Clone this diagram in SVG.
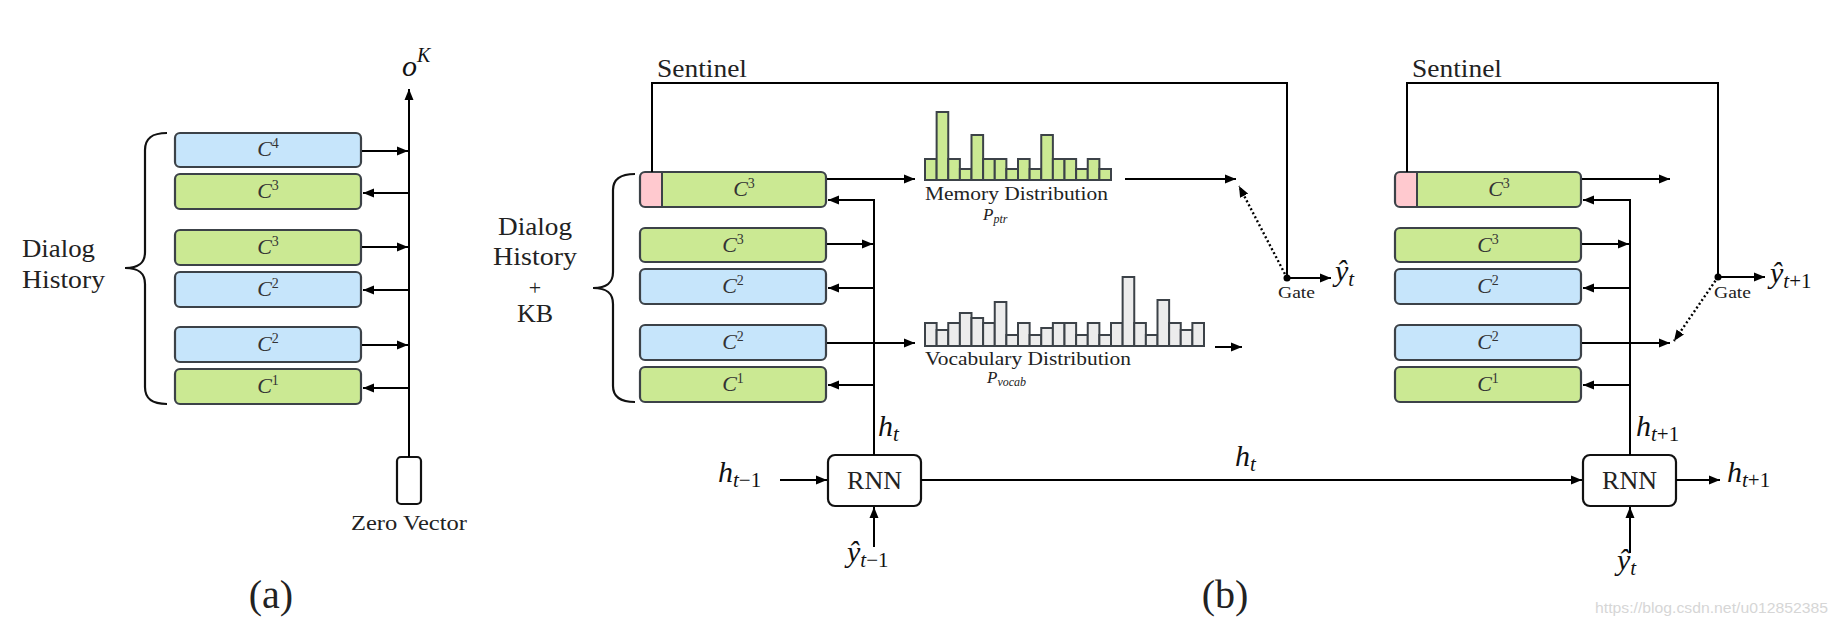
<svg xmlns="http://www.w3.org/2000/svg" width="1838" height="620" viewBox="0 0 1838 620" font-family="'Liberation Serif', 'DejaVu Serif', serif">
<style>
.g{fill:#cbe993}
.b{fill:#c6e5fb}
.box{stroke:#3c4248;stroke-width:2.2}
.bar{stroke:#3c4248;stroke-width:2}
.vb{fill:#ececec}
.t{fill:#222}
.c{fill:#333;font-size:22px;text-anchor:middle}
.i{font-style:italic}
.m{fill:#111;font-size:30px;font-style:italic}
.ln{fill:none;stroke:#000;stroke-width:2}
.dot{fill:none;stroke:#000;stroke-width:2.4;stroke-dasharray:2 2.5}
.br{fill:none;stroke:#111;stroke-width:2.2}
.rnn{fill:#fff;stroke:#111;stroke-width:2.2}
</style>
<defs>
<marker id="ah" markerUnits="userSpaceOnUse" markerWidth="12" markerHeight="10" refX="11" refY="5" orient="auto">
<path d="M0,0.5 L11,5 L0,9.5 Z" fill="#000"/>
</marker>
</defs>
<rect width="1838" height="620" fill="#fff"/>

<!-- (a) -->
<g id="a-brace"><path class="br" d="M167 133 C152 133 145 138 145 150 L145 252 C145 263 139 268 125 268 C139 268 145 273 145 284 L145 387 C145 399 152 404 167 404"/></g>
<g id="a-label"><text class="t" x="22" y="257" font-size="26" textLength="73" lengthAdjust="spacingAndGlyphs">Dialog</text><text class="t" x="22" y="288" font-size="26" textLength="83" lengthAdjust="spacingAndGlyphs">History</text></g>
<g id="a-c4"><rect class="b box" x="175" y="133" width="186" height="34" rx="5"/><text class="c" x="268" y="156"><tspan class="i">C</tspan><tspan dy="-8" font-size="14">4</tspan></text></g>
<g id="a-c3a"><rect class="g box" x="175" y="174" width="186" height="35" rx="5"/><text class="c" x="268" y="198"><tspan class="i">C</tspan><tspan dy="-8" font-size="14">3</tspan></text></g>
<g id="a-c3b"><rect class="g box" x="175" y="230" width="186" height="35" rx="5"/><text class="c" x="268" y="254"><tspan class="i">C</tspan><tspan dy="-8" font-size="14">3</tspan></text></g>
<g id="a-c2a"><rect class="b box" x="175" y="272" width="186" height="35" rx="5"/><text class="c" x="268" y="296"><tspan class="i">C</tspan><tspan dy="-8" font-size="14">2</tspan></text></g>
<g id="a-c2b"><rect class="b box" x="175" y="327" width="186" height="35" rx="5"/><text class="c" x="268" y="351"><tspan class="i">C</tspan><tspan dy="-8" font-size="14">2</tspan></text></g>
<g id="a-c1"><rect class="g box" x="175" y="369" width="186" height="35" rx="5"/><text class="c" x="268" y="393"><tspan class="i">C</tspan><tspan dy="-8" font-size="14">1</tspan></text></g>
<g id="a-zero"><rect x="397" y="457" width="24" height="47" rx="4" fill="#fff" stroke="#111" stroke-width="2.2"/><text class="t" x="409" y="530" font-size="21" text-anchor="middle" textLength="116" lengthAdjust="spacingAndGlyphs">Zero Vector</text></g>
<g id="a-ok"><text class="m" x="402" y="76" font-size="28">o<tspan dy="-14" font-size="20">K</tspan></text></g>
<g id="a-cap"><text class="t" x="271" y="608" font-size="40" text-anchor="middle">(a)</text></g>

<!-- (b) left -->
<g id="b-brace"><path class="br" d="M635 174 C620 174 613 179 613 190 L613 272 C613 283 607 288 593 288 C607 288 613 293 613 304 L613 386 C613 397 620 402 635 402"/></g>
<g id="b-label" class="t" font-size="26" text-anchor="middle"><text x="535" y="235" textLength="74" lengthAdjust="spacingAndGlyphs">Dialog</text><text x="535" y="265" textLength="84" lengthAdjust="spacingAndGlyphs">History</text><text x="535" y="295" font-size="22">+</text><text x="535" y="322">KB</text></g>
<g id="b-c3s"><rect class="g" x="640" y="172" width="186" height="35" rx="5"/><path d="M662 172 L645 172 Q640 172 640 177 L640 202 Q640 207 645 207 L662 207 Z" fill="#ffc9cf"/><rect class="box" fill="none" x="640" y="172" width="186" height="35" rx="5"/><line x1="662" y1="172" x2="662" y2="207" stroke="#3c4248" stroke-width="2"/><text class="c" x="744" y="196"><tspan class="i">C</tspan><tspan dy="-8" font-size="14">3</tspan></text></g>
<g id="b-c3"><rect class="g box" x="640" y="228" width="186" height="34" rx="5"/><text class="c" x="733" y="252"><tspan class="i">C</tspan><tspan dy="-8" font-size="14">3</tspan></text></g>
<g id="b-c2a"><rect class="b box" x="640" y="269" width="186" height="35" rx="5"/><text class="c" x="733" y="293"><tspan class="i">C</tspan><tspan dy="-8" font-size="14">2</tspan></text></g>
<g id="b-c2b"><rect class="b box" x="640" y="325" width="186" height="35" rx="5"/><text class="c" x="733" y="349"><tspan class="i">C</tspan><tspan dy="-8" font-size="14">2</tspan></text></g>
<g id="b-c1"><rect class="g box" x="640" y="367" width="186" height="35" rx="5"/><text class="c" x="733" y="391"><tspan class="i">C</tspan><tspan dy="-8" font-size="14">1</tspan></text></g>

<g id="b-memdist">
<g class="g bar">
<rect x="925" y="159" width="11.625" height="21"/><rect x="936.625" y="112" width="11.625" height="68"/><rect x="948.25" y="159" width="11.625" height="21"/><rect x="959.875" y="169" width="11.625" height="11"/><rect x="971.5" y="135" width="11.625" height="45"/><rect x="983.125" y="159" width="11.625" height="21"/><rect x="994.75" y="159" width="11.625" height="21"/><rect x="1006.375" y="169" width="11.625" height="11"/><rect x="1018" y="159" width="11.625" height="21"/><rect x="1029.625" y="169" width="11.625" height="11"/><rect x="1041.25" y="135" width="11.625" height="45"/><rect x="1052.875" y="159" width="11.625" height="21"/><rect x="1064.5" y="159" width="11.625" height="21"/><rect x="1076.125" y="169" width="11.625" height="11"/><rect x="1087.75" y="159" width="11.625" height="21"/><rect x="1099.375" y="169" width="11.625" height="11"/>
</g>
<text class="t" x="925" y="200" font-size="18" textLength="183" lengthAdjust="spacingAndGlyphs">Memory Distribution</text>
<text class="t i" x="983" y="220" font-size="17">P<tspan dy="3" font-size="12">ptr</tspan></text>
</g>

<g id="b-vocabdist">
<g class="vb bar">
<rect x="925" y="323" width="11.625" height="23"/><rect x="936.625" y="330" width="11.625" height="16"/><rect x="948.25" y="323" width="11.625" height="23"/><rect x="959.875" y="313" width="11.625" height="33"/><rect x="971.5" y="318" width="11.625" height="28"/><rect x="983.125" y="323" width="11.625" height="23"/><rect x="994.75" y="302" width="11.625" height="44"/><rect x="1006.375" y="335" width="11.625" height="11"/><rect x="1018" y="323" width="11.625" height="23"/><rect x="1029.625" y="335" width="11.625" height="11"/><rect x="1041.25" y="328" width="11.625" height="18"/><rect x="1052.875" y="323" width="11.625" height="23"/><rect x="1064.5" y="323" width="11.625" height="23"/><rect x="1076.125" y="335" width="11.625" height="11"/><rect x="1087.75" y="323" width="11.625" height="23"/><rect x="1099.375" y="335" width="11.625" height="11"/><rect x="1111" y="323" width="11.625" height="23"/><rect x="1122.625" y="277" width="11.625" height="69"/><rect x="1134.25" y="323" width="11.625" height="23"/><rect x="1145.875" y="335" width="11.625" height="11"/><rect x="1157.5" y="300" width="11.625" height="46"/><rect x="1169.125" y="323" width="11.625" height="23"/><rect x="1180.75" y="330" width="11.625" height="16"/><rect x="1192.375" y="323" width="11.625" height="23"/>
</g>
<text class="t" x="925" y="365" font-size="18" textLength="206" lengthAdjust="spacingAndGlyphs">Vocabulary Distribution</text>
<text class="t i" x="987" y="383" font-size="17">P<tspan dy="3" font-size="12">vocab</tspan></text>
</g>

<g id="b-sentinel-label"><text class="t" x="657" y="77" font-size="26" textLength="90" lengthAdjust="spacingAndGlyphs">Sentinel</text></g>
<g id="b-gate"><circle cx="1287" cy="278" r="3.5" fill="#000"/><text class="t" x="1278" y="298" font-size="16" fill="#444" textLength="37" lengthAdjust="spacingAndGlyphs">Gate</text></g>
<g id="b-yt"><text class="m" x="1335" y="281">ŷ<tspan dy="5" font-size="21">t</tspan></text></g>
<g id="b-rnn1"><rect class="rnn" x="828" y="455" width="93" height="51" rx="7"/><text class="t" x="874.5" y="489" font-size="26" text-anchor="middle">RNN</text></g>
<g id="b-htm1"><text class="m" x="718" y="482">h<tspan dy="5" font-size="21">t</tspan><tspan font-style="normal" font-size="21">−1</tspan></text></g>
<g id="b-ht-up"><text class="m" x="878" y="436">h<tspan dy="5" font-size="21">t</tspan></text></g>
<g id="b-ytm1"><text class="m" x="847" y="562">ŷ<tspan dy="5" font-size="21">t</tspan><tspan font-style="normal" font-size="21">−1</tspan></text></g>
<g id="b-ht-mid"><text class="m" x="1235" y="466">h<tspan dy="5" font-size="21">t</tspan></text></g>

<!-- (b) right -->
<g id="b2-c3s"><rect class="g" x="1395" y="172" width="186" height="35" rx="5"/><path d="M1417 172 L1400 172 Q1395 172 1395 177 L1395 202 Q1395 207 1400 207 L1417 207 Z" fill="#ffc9cf"/><rect class="box" fill="none" x="1395" y="172" width="186" height="35" rx="5"/><line x1="1417" y1="172" x2="1417" y2="207" stroke="#3c4248" stroke-width="2"/><text class="c" x="1499" y="196"><tspan class="i">C</tspan><tspan dy="-8" font-size="14">3</tspan></text></g>
<g id="b2-c3"><rect class="g box" x="1395" y="228" width="186" height="34" rx="5"/><text class="c" x="1488" y="252"><tspan class="i">C</tspan><tspan dy="-8" font-size="14">3</tspan></text></g>
<g id="b2-c2a"><rect class="b box" x="1395" y="269" width="186" height="35" rx="5"/><text class="c" x="1488" y="293"><tspan class="i">C</tspan><tspan dy="-8" font-size="14">2</tspan></text></g>
<g id="b2-c2b"><rect class="b box" x="1395" y="325" width="186" height="35" rx="5"/><text class="c" x="1488" y="349"><tspan class="i">C</tspan><tspan dy="-8" font-size="14">2</tspan></text></g>
<g id="b2-c1"><rect class="g box" x="1395" y="367" width="186" height="35" rx="5"/><text class="c" x="1488" y="391"><tspan class="i">C</tspan><tspan dy="-8" font-size="14">1</tspan></text></g>
<g id="b2-sentinel-label"><text class="t" x="1412" y="77" font-size="26" textLength="90" lengthAdjust="spacingAndGlyphs">Sentinel</text></g>
<g id="b2-gate"><circle cx="1718" cy="277" r="3.5" fill="#000"/><text class="t" x="1714" y="298" font-size="16" fill="#444" textLength="37" lengthAdjust="spacingAndGlyphs">Gate</text></g>
<g id="b2-yt1"><text class="m" x="1770" y="283">ŷ<tspan dy="5" font-size="21">t</tspan><tspan font-style="normal" font-size="21">+1</tspan></text></g>
<g id="b2-rnn"><rect class="rnn" x="1583" y="455" width="93" height="51" rx="7"/><text class="t" x="1629.5" y="489" font-size="26" text-anchor="middle">RNN</text></g>
<g id="b2-ht1-up"><text class="m" x="1636" y="436">h<tspan dy="5" font-size="21">t</tspan><tspan font-style="normal" font-size="21">+1</tspan></text></g>
<g id="b2-ht1-out"><text class="m" x="1727" y="482">h<tspan dy="5" font-size="21">t</tspan><tspan font-style="normal" font-size="21">+1</tspan></text></g>
<g id="b2-yt"><text class="m" x="1617" y="570">ŷ<tspan dy="5" font-size="21">t</tspan></text></g>
<g id="b-cap"><text class="t" x="1225" y="608" font-size="40" text-anchor="middle">(b)</text></g>
<g id="watermark"><text x="1595" y="613" font-family="'Liberation Sans', Arial, sans-serif" font-size="15" fill="#d6d6d6" textLength="233" lengthAdjust="spacingAndGlyphs">https://blog.csdn.net/u012852385</text></g>

<g id="connectors">
<!-- (a) -->
<path class="ln" d="M409 457 L409 89" marker-end="url(#ah)"/>
<path class="ln" d="M362 151 L408 151" marker-end="url(#ah)"/>
<path class="ln" d="M409 193 L363 193" marker-end="url(#ah)"/>
<path class="ln" d="M362 247 L408 247" marker-end="url(#ah)"/>
<path class="ln" d="M409 290 L363 290" marker-end="url(#ah)"/>
<path class="ln" d="M362 345 L408 345" marker-end="url(#ah)"/>
<path class="ln" d="M409 388 L363 388" marker-end="url(#ah)"/>
<!-- (b) left -->
<path class="ln" d="M652 172 L652 83 L1287 83 L1287 278"/>
<path class="ln" d="M827 179 L915 179" marker-end="url(#ah)"/>
<path class="ln" d="M874 455 L874 200 L828 200" marker-end="url(#ah)"/>
<path class="ln" d="M827 244 L873 244" marker-end="url(#ah)"/>
<path class="ln" d="M874 288 L828 288" marker-end="url(#ah)"/>
<path class="ln" d="M827 343 L915 343" marker-end="url(#ah)"/>
<path class="ln" d="M874 385 L828 385" marker-end="url(#ah)"/>
<path class="ln" d="M1125 179 L1236 179" marker-end="url(#ah)"/>
<path class="ln" d="M1215 347 L1242 347" marker-end="url(#ah)"/>
<path class="dot" d="M1287 278 L1239 186" marker-end="url(#ah)"/>
<path class="ln" d="M1287 278 L1331 278" marker-end="url(#ah)"/>
<path class="ln" d="M780 480 L827 480" marker-end="url(#ah)"/>
<path class="ln" d="M874 547 L874 507" marker-end="url(#ah)"/>
<path class="ln" d="M921 480 L1582 480" marker-end="url(#ah)"/>
<!-- (b) right -->
<path class="ln" d="M1407 172 L1407 83 L1718 83 L1718 277"/>
<path class="ln" d="M1582 179 L1670 179" marker-end="url(#ah)"/>
<path class="ln" d="M1630 455 L1630 200 L1583 200" marker-end="url(#ah)"/>
<path class="ln" d="M1582 244 L1629 244" marker-end="url(#ah)"/>
<path class="ln" d="M1630 288 L1583 288" marker-end="url(#ah)"/>
<path class="ln" d="M1582 343 L1670 343" marker-end="url(#ah)"/>
<path class="ln" d="M1630 385 L1583 385" marker-end="url(#ah)"/>
<path class="dot" d="M1718 277 L1674 341" marker-end="url(#ah)"/>
<path class="ln" d="M1718 277 L1765 277" marker-end="url(#ah)"/>
<path class="ln" d="M1676 480 L1720 480" marker-end="url(#ah)"/>
<path class="ln" d="M1630 553 L1630 507" marker-end="url(#ah)"/>
</g>
</svg>
